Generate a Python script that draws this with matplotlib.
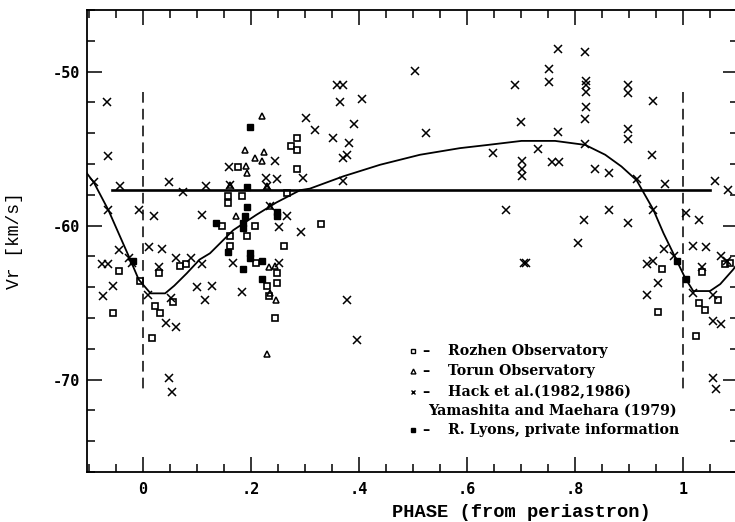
import matplotlib
matplotlib.use("Agg")
import matplotlib.pyplot as plt
from matplotlib.ticker import MultipleLocator, FixedFormatter, FixedLocator

# --- data (phase, radial velocity km/s) ---
# Rozhen Observatory (open squares)
rozhen_ph = [-0.045, -0.005, 0.029, 0.069, 0.080, -0.056, 0.023, 0.031, 0.056, 0.017,
             0.285, 0.275, 0.285, 0.285, 0.176, 0.158, 0.158, 0.183, 0.267, 0.146,
             0.207, 0.162, 0.193, 0.162, 0.262, 0.209, 0.249, 0.230, 0.249, 0.234,
             0.244, 0.329,
             0.962, 0.954, 1.035, 1.078, 1.088, 1.065, 1.030, 1.041, 1.024]
rozhen_v = [-62.96, -63.6, -63.1, -62.6, -62.5, -65.7, -65.2, -65.65, -64.96, -67.3,
            -54.3, -54.8, -55.1, -56.3, -56.2, -58.1, -58.5, -58.1, -57.9, -60.05,
            -60.05, -60.7, -60.7, -61.3, -61.3, -62.4, -63.1, -63.9, -63.75, -64.6,
            -66.0, -59.9,
            -62.8, -65.6, -63.0, -62.5, -62.4, -64.8, -65.05, -65.5, -67.2]

# Torun Observatory (open triangles)
torun_ph = [0.220, 0.188, 0.224, 0.207, 0.220, 0.191, 0.193, 0.173, 0.234, 0.244,
            0.235, 0.246, 0.229, 0.161, 0.230, 0.236]
torun_v = [-52.9, -55.1, -55.2, -55.6, -55.8, -56.1, -56.6, -59.4, -62.7, -62.6,
           -64.4, -64.8, -68.35, -57.35, -57.45, -58.7]

# Hack et al. (1982,1986), Yamashita and Maehara (1979) (crosses)
hack_ph = [-0.067, -0.064, -0.091, -0.042, 0.048, 0.075, 0.117, -0.064, -0.008, 0.020,
           0.109, -0.044, 0.011, 0.035, -0.025, -0.020, -0.076, -0.064, 0.062, 0.089,
           0.109, -0.056, -0.074, 0.009, 0.051, 0.043, 0.062, 0.100, 0.115, 0.127,
           0.048, 0.054, 0.029,
           0.183, 0.167, 0.160, 0.244, 0.228, 0.249, 0.252, 0.266, 0.252, 0.292,
           0.297, 0.370, 0.377, 0.396, 0.504, 0.359, 0.371, 0.365, 0.405, 0.302,
           0.319, 0.391, 0.525, 0.351, 0.382, 0.377, 0.370, 0.161, 0.230, 0.236,
           0.769, 0.819, 0.752, 0.752, 0.688, 0.821, 0.821, 0.821, 0.899, 0.899,
           0.821, 0.819, 0.700, 0.769, 0.899, 0.899, 0.819, 0.732, 0.649, 0.701,
           0.701, 0.701, 0.757, 0.770, 0.837, 0.863, 0.914, 0.673, 0.863, 0.817,
           0.899, 0.806, 0.706, 0.709, 0.945, 0.942, 0.967, 1.059, 1.084, 0.945,
           1.006, 1.030, 1.018, 1.043, 0.965, 0.983, 0.933, 0.945, 0.954, 0.934,
           1.019, 1.071, 1.081, 1.056, 1.055, 1.070, 1.056, 1.062, 1.035]
hack_v = [-52.0, -55.5, -57.2, -57.45, -57.2, -57.8, -57.4, -58.96, -59.0, -59.4,
          -59.3, -61.6, -61.4, -61.5, -62.1, -62.4, -62.5, -62.5, -62.1, -62.1,
          -62.5, -63.9, -64.6, -64.5, -64.7, -66.3, -66.6, -63.97, -64.8, -63.9,
          -69.9, -70.8, -62.7,
          -64.3, -62.4, -56.2, -55.8, -56.9, -57.0, -60.1, -59.4, -62.4, -60.4,
          -56.9, -57.1, -64.8, -67.4, -49.95, -50.9, -50.9, -51.95, -51.8, -53.0,
          -53.8, -53.4, -53.96, -54.3, -54.65, -55.4, -55.6, -57.35, -57.45, -58.7,
          -48.5, -48.7, -49.85, -50.65, -50.9, -50.6, -50.9, -51.3, -50.9, -51.4,
          -52.3, -53.1, -53.25, -53.9, -53.7, -54.4, -54.7, -55.0, -55.3, -55.8,
          -56.3, -56.8, -55.9, -55.9, -56.3, -56.6, -57.0, -58.96, -58.96, -59.65,
          -59.8, -61.1, -62.4, -62.45, -51.9, -55.4, -57.3, -57.1, -57.7, -58.96,
          -59.2, -59.65, -61.3, -61.4, -61.5, -62.0, -62.5, -62.3, -63.75, -64.5,
          -64.4, -62.0, -62.3, -64.5, -66.2, -66.4, -69.9, -70.6, -62.7]

# R. Lyons, private information (filled squares)
lyons_ph = [0.199, 0.193, 0.192, 0.249, 0.249, 0.189, 0.186, 0.186, 0.135, 0.158,
            0.198, 0.199, 0.220, 0.186, 0.220, 0.989, 1.006, -0.018]
lyons_v = [-53.6, -57.5, -58.8, -59.1, -59.4, -59.4, -59.8, -60.15, -59.8, -61.7,
           -61.8, -62.1, -62.3, -62.85, -63.45, -62.3, -63.45, -62.3]

# orbital solution curve
curve_ph = [-0.104, -0.091, -0.064, -0.025, -0.008, 0.014, 0.041, 0.058, 0.081, 0.105,
            0.124, 0.167, 0.210, 0.247, 0.291, 0.309, 0.371, 0.439, 0.513, 0.587,
            0.639, 0.701, 0.763, 0.819, 0.856, 0.886, 0.914, 0.945, 0.964, 0.982,
            1.004, 1.019, 1.050, 1.069, 1.093, 1.102]
curve_v = [-56.6, -57.2, -59.0, -62.1, -63.5, -64.4, -64.4, -63.9, -63.1, -62.2,
           -61.8, -60.3, -59.3, -58.5, -57.7, -57.6, -56.8, -56.05, -55.4, -54.97,
           -54.76, -54.5, -54.5, -54.76, -55.4, -56.16, -57.05, -58.96, -60.5, -61.8,
           -63.4, -64.25, -64.25, -63.8, -62.85, -62.4]

gamma_v = -57.67
gamma_ph = [-0.057, 1.05]
periastron_ph = [0.0, 1.0]
periastron_v = [-51.3, -70.8]

legend_rows = ["Rozhen Observatory", "Torun Observatory",
               "Hack et al.(1982,1986)", "Yamashita and Maehara (1979)",
               "R. Lyons, private information"]

fig = plt.figure(figsize=(7.35, 5.22), dpi=100)
ax = fig.add_axes([87 / 735, 50 / 522, 651 / 735, 462 / 522])

ax.plot(curve_ph, curve_v, color="black", lw=1.3)
ax.plot(gamma_ph, [gamma_v, gamma_v], color="black", lw=1.9)
for p in periastron_ph:
    ax.plot([p, p], periastron_v, color="black", lw=1.1, linestyle=(0, (7, 4)))

ax.plot(hack_ph, hack_v, "x", color="black", ms=5.5, mew=1.1)
ax.plot(rozhen_ph, rozhen_v, "s", mfc="none", mec="black", ms=4, mew=1.2)
ax.plot(torun_ph, torun_v, "^", mfc="none", mec="black", ms=4.2, mew=1.1)
ax.plot(lyons_ph, lyons_v, "s", color="black", ms=4)

# legend drawn by hand (one entry spans two lines)
leg_markers = [("s", "none"), ("^", "none"), ("x", "black"), None, ("s", "black")]
leg_y = [0.262, 0.219, 0.173, 0.132, 0.091]
for row, mk, yy in zip(legend_rows, leg_markers, leg_y):
    if mk is not None:
        ax.plot([0.501], [yy], mk[0], mfc=mk[1], mec="black", ms=3.5, mew=1.0,
                transform=ax.transAxes, clip_on=False)
        ax.text(0.515, yy, "–", transform=ax.transAxes, va="center", ha="left",
                family="DejaVu Serif", fontsize=10.5, fontweight="bold")
        x0 = 0.5545
    else:
        x0 = 0.5238
    ax.text(x0, yy, row, transform=ax.transAxes, va="center", ha="left",
            family="DejaVu Serif", fontsize=10.2, fontweight="bold")

ax.set_xlim(-0.1037, 1.1019)
ax.set_ylim(-76, -46)

ax.xaxis.set_major_locator(FixedLocator([0, 0.2, 0.4, 0.6, 0.8, 1.0]))
ax.xaxis.set_major_formatter(FixedFormatter(["0", ".2", ".4", ".6", ".8", "1"]))
ax.xaxis.set_minor_locator(MultipleLocator(0.05))
ax.yaxis.set_major_locator(FixedLocator([-70, -60, -50]))
ax.yaxis.set_major_formatter(FixedFormatter(["-70", "-60", "-50"]))
ax.yaxis.set_minor_locator(MultipleLocator(2))

ax.tick_params(which="both", direction="in", top=True, right=True, width=1.1)
ax.tick_params(which="major", length=11)
ax.tick_params(which="minor", length=6)
ax.tick_params(axis="x", which="major", pad=7)
ax.tick_params(axis="y", which="major", pad=5)
for lab in ax.get_xticklabels() + ax.get_yticklabels():
    lab.set_family("DejaVu Sans Mono")
    lab.set_fontweight("bold")
    lab.set_fontsize(11)
for s in ax.spines.values():
    s.set_linewidth(1.3)

ax.set_xlabel("PHASE (from periastron)", family="Liberation Mono", fontweight="bold",
              fontsize=13.5)
ax.xaxis.set_label_coords(0.668, -0.07)
ax.set_ylabel("Vr [km/s]", family="Liberation Mono", fontsize=13)
ax.yaxis.set_label_coords(-0.098, 0.5)

fig.savefig("out.png", dpi=100)
